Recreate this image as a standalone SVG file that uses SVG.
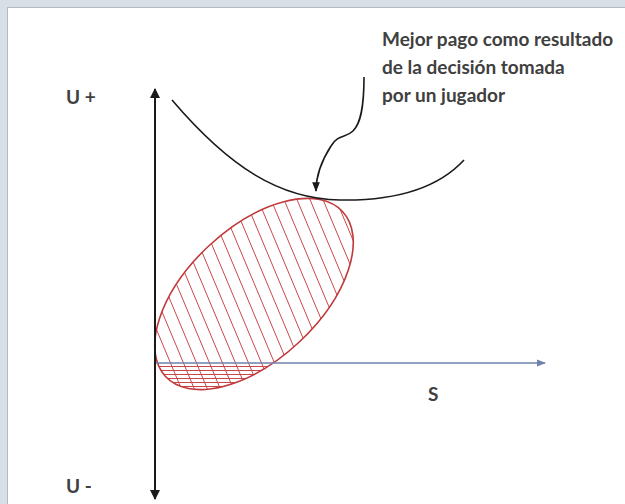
<svg xmlns="http://www.w3.org/2000/svg" width="625" height="504" viewBox="0 0 625 504">
<style>
  .lbl { font-family: "Lato", "Liberation Sans", sans-serif; font-size: 19px; font-weight: 700; fill: #404040; }
  .ax { stroke: #1a1a1a; stroke-width: 2; fill: none; }
  .hatch { stroke: #c9474a; stroke-width: 1; fill: none; }
</style>
<defs>
  <marker id="ah" viewBox="0 0 10 10" refX="9" refY="5" markerWidth="5" markerHeight="5" orient="auto-start-reverse" markerUnits="strokeWidth">
    <path d="M0,0 L10,5 L0,10 z" fill="#1a1a1a"/>
  </marker>
  <marker id="ahs" viewBox="0 0 10 10" refX="9" refY="5" markerWidth="6" markerHeight="6" orient="auto" markerUnits="strokeWidth">
    <path d="M0,1 L10,5 L0,9 z" fill="#1a1a1a"/>
  </marker>
  <marker id="ahb" viewBox="0 0 10 10" refX="9" refY="5" markerWidth="6" markerHeight="6" orient="auto" markerUnits="strokeWidth">
    <path d="M0,1 L10,5 L0,9 z" fill="#6f82ad"/>
  </marker>
  <clipPath id="ec">
    <ellipse cx="254" cy="294" rx="121" ry="66" transform="rotate(-43 254 294)"/>
  </clipPath>
</defs>
<rect x="0" y="0" width="625" height="504" fill="#d8dfe7"/>
<rect x="7.5" y="7.5" width="630" height="510" fill="#ffffff" stroke="#b4bac2" stroke-width="1"/>

<g id="region">
  <g clip-path="url(#ec)">
    <g class="hatch">
      <path d="M85,190 l88,210 M98,190 l88,210 M111,190 l88,210 M124,190 l88,210 M137,190 l88,210 M150,190 l88,210 M163,190 l88,210 M176,190 l88,210 M189,190 l88,210 M202,190 l88,210 M215,190 l88,210 M228,190 l88,210 M241,190 l88,210 M254,190 l88,210 M267,190 l88,210 M280,190 l88,210 M293,190 l88,210 M306,190 l88,210 M319,190 l88,210 M332,190 l88,210"/>
      <path d="M150,366.5 H300 M150,370.5 H300 M150,374.5 H300 M150,378.5 H300 M150,382.5 H300 M150,386.5 H300"/>
    </g>
  </g>
  <ellipse cx="254" cy="294" rx="121" ry="66" transform="rotate(-43 254 294)" fill="none" stroke="#c0393c" stroke-width="1.6"/>
</g>

<g id="connectors">
  <line id="axis-s" x1="155" y1="363" x2="545" y2="363" stroke="#6f82ad" stroke-width="1.5" marker-end="url(#ahb)"/>
  <line id="axis-u" class="ax" x1="155" y1="89" x2="155" y2="499" marker-start="url(#ah)" marker-end="url(#ah)"/>
  <path id="curve" d="M172,100 C230,168 280,199 340,200 C400,201 440,186 464,160" fill="none" stroke="#1a1a1a" stroke-width="1.6"/>
  <path id="pointer" d="M364,77 C364,110 360,124 353,131 C346,138 338,134 331,146 C322,160 316,175 316,191" fill="none" stroke="#1a1a1a" stroke-width="1.6" marker-end="url(#ahs)"/>
</g>

<g id="label-uplus"><text class="lbl" x="66" y="104">U +</text></g>
<g id="label-uminus"><text class="lbl" x="66" y="493">U -</text></g>
<g id="label-s"><text class="lbl" x="428" y="401">S</text></g>
<g id="note">
  <text class="lbl" x="382" y="46">Mejor pago como resultado</text>
  <text class="lbl" x="382" y="74">de la decisión tomada</text>
  <text class="lbl" x="382" y="102">por un jugador</text>
</g>
</svg>
